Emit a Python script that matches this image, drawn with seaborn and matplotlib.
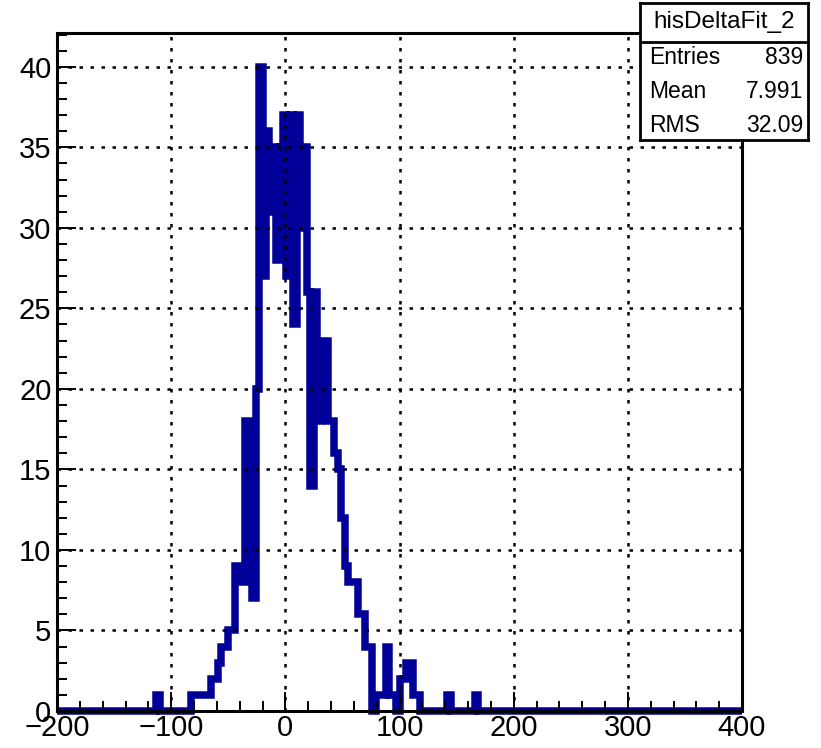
import numpy as np
import pandas as pd
import matplotlib
matplotlib.use("Agg")
import matplotlib.pyplot as plt
from matplotlib.ticker import MultipleLocator
import seaborn as sns

# ---- data (3-unit bins from -200 to 400; only non-empty bins listed) ----
hist_range = (-200, 400)
n_bins = 200
bin_left_edges = [-113,
                  -83, -80, -77, -74, -71, -68,
                  -65, -62, -59, -56, -53, -50, -47,
                  -44, -41, -38, -35, -32, -29, -26, -23, -20, -17, -14, -11, -8, -5,
                  -2, 1, 4, 7, 10, 13, 16, 19, 22, 25, 28, 31, 34, 37, 40, 43, 46, 49,
                  52, 55, 58, 61, 64, 67, 70, 73, 79, 82, 85, 88, 91, 94,
                  100, 103, 106, 109, 112, 115,
                  142, 166]
bin_counts = [1,
              1, 1, 1, 1, 1, 1,
              2, 2, 3, 4, 4, 5, 5,
              9, 9, 8, 18, 18, 7, 20, 40, 27, 36, 31, 35, 28, 35,
              37, 27, 37, 24, 37, 30, 35, 26, 14, 26, 18, 23, 23, 18, 18, 16, 15, 12,
              9, 8, 8, 8, 6, 6, 4, 4, 1, 1, 1, 4, 1, 1,
              2, 2, 3, 3, 1, 1,
              1, 1]
x_ticks = [-200, -100, 0, 100, 200, 300, 400]
y_ticks = [0, 5, 10, 15, 20, 25, 30, 35, 40]
stats_title = "hisDeltaFit_2"
stats_names = ["Entries", "Mean", "RMS"]
stats_values = ["839", "7.991", "32.09"]

# ---- build full histogram table ----
edges = np.linspace(hist_range[0], hist_range[1], n_bins + 1)
width = edges[1] - edges[0]
counts = np.zeros(n_bins)
for le, c in zip(bin_left_edges, bin_counts):
    counts[int(round((le - hist_range[0]) / width))] = c
df = pd.DataFrame({"center": edges[:-1] + width / 2, "count": counts})

sns.set_theme(style="white")
plt.rcParams["font.family"] = ["Liberation Sans", "DejaVu Sans"]
plt.rcParams["lines.solid_joinstyle"] = "miter"
plt.rcParams["lines.solid_capstyle"] = "butt"

W, H = 821, 748
fig = plt.figure(figsize=(W / 100, H / 100), dpi=100)
fig.patch.set_facecolor("white")
ax = fig.add_axes([57 / W, 1 - 711 / H, (742 - 57) / W, (711 - 33) / H])
ax.set_facecolor("white")

sns.histplot(data=df, x="center", weights="count", bins=[float(e) for e in edges],
             element="step", fill=False, color="#000099", linewidth=5.4, ax=ax)
for ln in ax.lines:
    ln.set_clip_on(False)
    ln.set_solid_joinstyle("miter")
    ln.set_solid_capstyle("butt")

ax.set_xlim(-200, 400)
ax.set_ylim(0, 42.1)
ax.set_xlabel("")
ax.set_ylabel("")
ax.set_xticks(x_ticks)
ax.set_xticklabels([str(v).replace("-", "\u2212") for v in x_ticks])
ax.set_yticks(y_ticks)
ax.set_yticklabels([str(v) for v in y_ticks])
ax.xaxis.set_minor_locator(MultipleLocator(20))
ax.yaxis.set_minor_locator(MultipleLocator(1))
ax.tick_params(which="both", direction="in", top=False, right=False,
               bottom=True, left=True, color="black")
ax.tick_params(which="major", length=14, width=1.4)
ax.tick_params(which="minor", length=7, width=1.4)
ax.tick_params(axis="x", labelsize=21, pad=2, labelcolor="black")
ax.tick_params(axis="y", labelsize=21, pad=4, labelcolor="black")

ax.set_axisbelow(False)
ax.grid(True, which="major", color="black", linestyle=(0, (1.4, 3.0)), linewidth=1.8)
for sp in ax.spines.values():
    sp.set_visible(True)
    sp.set_color("black")
    sp.set_linewidth(2.2)

# ---- stats box ----
bx0, bx1, by0, by1 = 640, 808, 3, 140
sax = fig.add_axes([bx0 / W, 1 - by1 / H, (bx1 - bx0) / W, (by1 - by0) / H])
sax.set_facecolor("white")
sax.set_xticks([])
sax.set_yticks([])
sax.set_xlim(0, 1)
sax.set_ylim(0, 1)
for sp in sax.spines.values():
    sp.set_visible(True)
    sp.set_color("black")
    sp.set_linewidth(2.0)
def fy(y):
    return (by1 - y) / (by1 - by0)
sax.plot([0, 1], [fy(42), fy(42)], color="black", linewidth=2.0)
sax.text(0.5, fy(22), stats_title, ha="center", va="center", fontsize=17.5, color="black")
rows_y = [58, 92, 125]
for name, val, yy in zip(stats_names, stats_values, rows_y):
    sax.text((649 - bx0) / (bx1 - bx0), fy(yy), name, ha="left", va="center",
             fontsize=16.5, color="black")
    sax.text((803 - bx0) / (bx1 - bx0), fy(yy), val, ha="right", va="center",
             fontsize=16.5, color="black")

fig.savefig("out.png", dpi=100, facecolor="white")
